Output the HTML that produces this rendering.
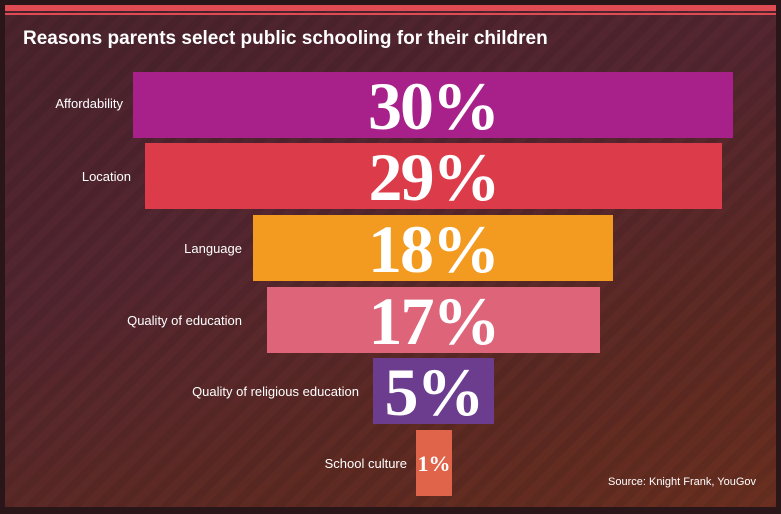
<!DOCTYPE html>
<html><head><style>
body{margin:0;width:781px;height:514px;background:#2a1518;overflow:hidden;position:relative;font-family:"Liberation Sans",sans-serif}
.panel{position:absolute;left:5px;top:5px;width:771px;height:502px;background:linear-gradient(160deg,#4a232d 0%,#542630 40%,#5e2a22 75%,#6a2f20 100%)}
.stripes{position:absolute;left:5px;top:5px;width:771px;height:502px;background:repeating-linear-gradient(135deg,rgba(0,0,0,0.07) 0 8px,rgba(0,0,0,0) 8px 16px)}
.r1{position:absolute;left:5px;top:5px;width:771px;height:6px;background:#e04a52}
.r2{position:absolute;left:5px;top:13px;width:771px;height:2px;background:#e04a52}
h1{position:absolute;left:23px;top:28px;margin:0;font-size:19px;color:#fff;font-weight:bold}
.bar{position:absolute;height:66px;color:#fff;font-family:"Liberation Serif",serif;font-weight:bold;font-size:68px;line-height:68px;text-align:center;letter-spacing:-2px}
.lab{position:absolute;color:#fff;font-size:13px;text-align:right;width:300px}
.src{position:absolute;right:25px;top:476px;color:#fff;font-size:11px}
</style></head><body>
<div class="panel"></div><div class="stripes"></div>
<div class="r1"></div><div class="r2"></div>
<h1>Reasons parents select public schooling for their children</h1>
<div class="bar" style="left:133px;width:600px;top:72px;background:#a8218a">30%</div>
<div class="bar" style="left:145px;width:577px;top:143px;background:#dc3c4a">29%</div>
<div class="bar" style="left:253px;width:360px;top:215px;background:#f39a20">18%</div>
<div class="bar" style="left:267px;width:333px;top:287px;background:#dd6479">17%</div>
<div class="bar" style="left:373px;width:121px;top:358px;background:#6c3c8f">5%</div>
<div class="bar" style="left:416px;width:36px;top:430px;background:#e06449;font-size:22px;letter-spacing:0">1%</div>
<div class="lab" style="left:-177px;top:96px">Affordability</div>
<div class="lab" style="left:-169px;top:169px">Location</div>
<div class="lab" style="left:-58px;top:241px">Language</div>
<div class="lab" style="left:-58px;top:313px">Quality of education</div>
<div class="lab" style="left:59px;top:384px">Quality of religious education</div>
<div class="lab" style="left:107px;top:456px">School culture</div>
<div class="src">Source: Knight Frank, YouGov</div>
</body></html>
